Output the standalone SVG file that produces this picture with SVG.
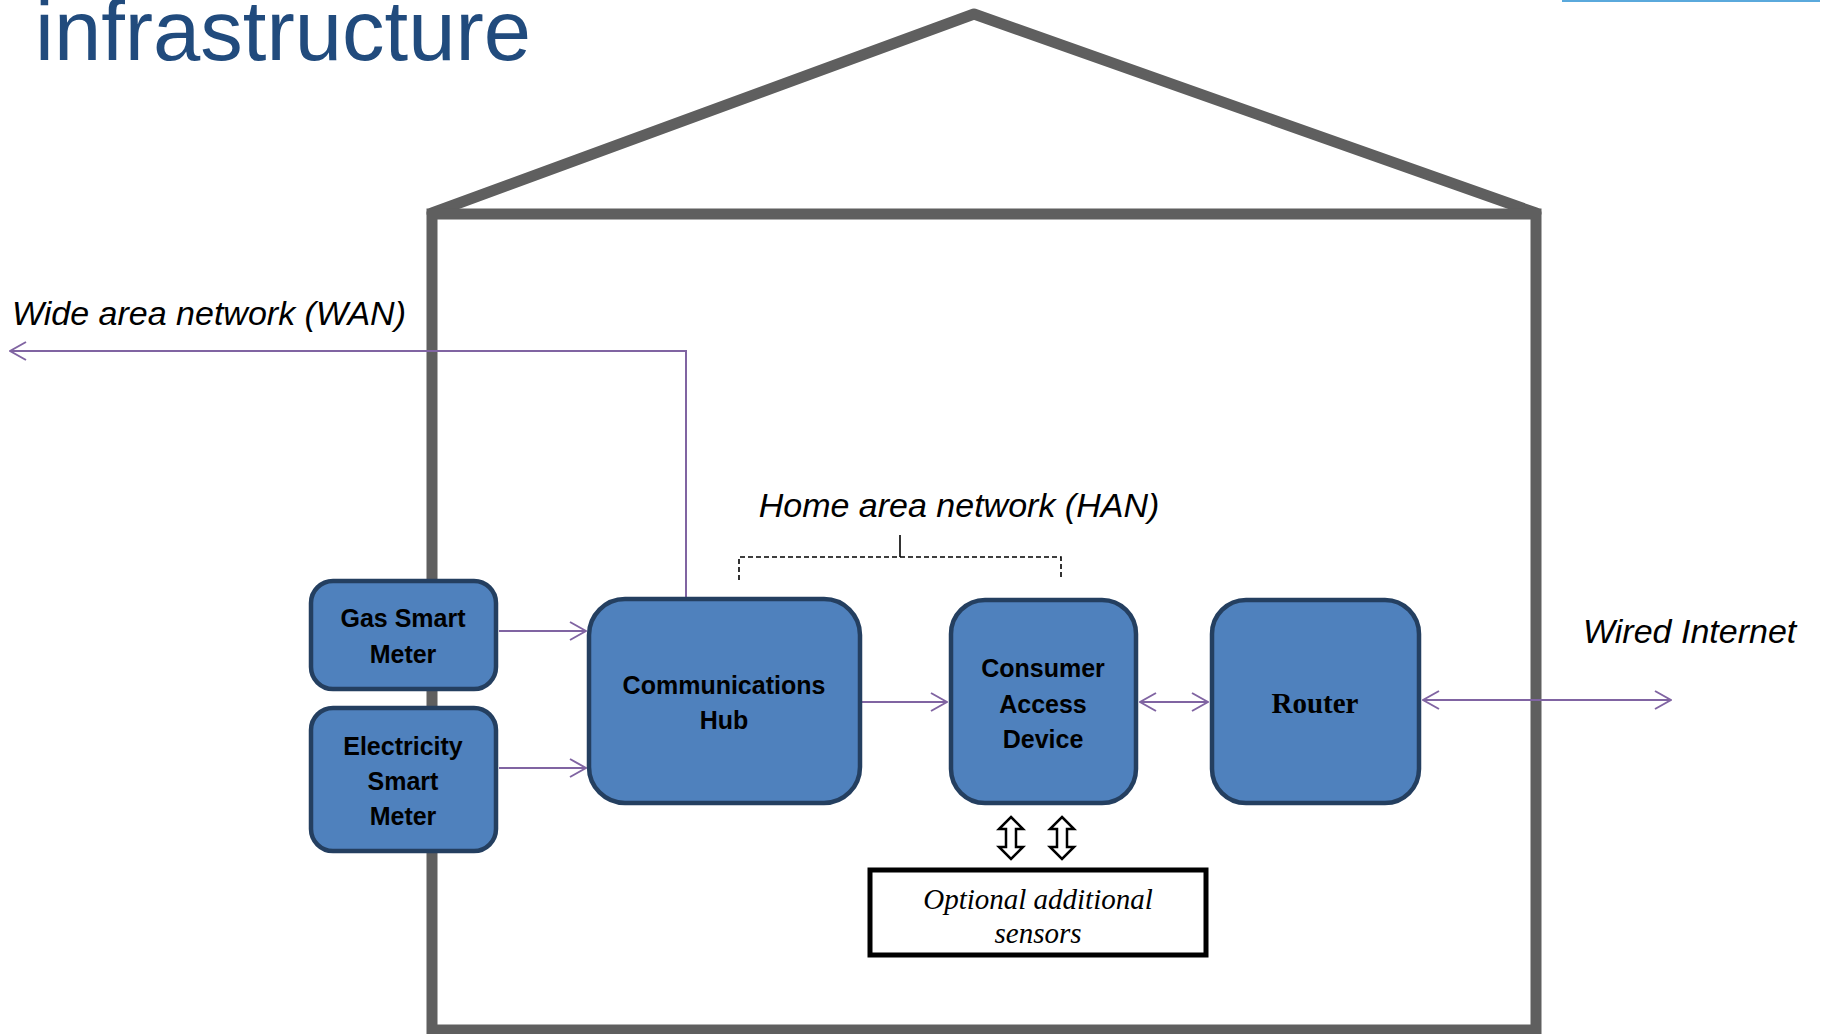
<svg xmlns="http://www.w3.org/2000/svg" width="1822" height="1034" viewBox="0 0 1822 1034">
  <defs>
    <style>
      .house { fill: none; stroke: #5f5f5f; stroke-width: 11; stroke-linejoin: round; stroke-linecap: round; }
      .node { fill: #4f81bd; stroke: #243f60; stroke-width: 4.5; }
      .label { font-family: "Liberation Sans", Arial, sans-serif; font-weight: bold; font-size: 25px; fill: #000; text-anchor: middle; }
      .net { font-family: "Liberation Sans", Arial, sans-serif; font-style: italic; font-size: 34px; fill: #000; }
      .serif { font-family: "Liberation Serif", "Times New Roman", serif; fill: #000; text-anchor: middle; }
      .link { fill: none; stroke: #8064a2; stroke-width: 2; }
      .bracket { fill: none; stroke: #000; stroke-width: 1.6; stroke-dasharray: 5 3; }
      .block { fill: #fff; stroke: #000; stroke-width: 2.5; stroke-linejoin: miter; }
    </style>
    <marker id="chev" viewBox="0 0 18 20" refX="17" refY="10" markerWidth="18" markerHeight="20" markerUnits="userSpaceOnUse" orient="auto-start-reverse">
      <path d="M1,1 L17,10 L1,19" fill="none" stroke="#8064a2" stroke-width="2"/>
    </marker>
  </defs>

  <rect width="1822" height="1034" fill="#fff"/>

  <!-- slide title and header rule -->
  <text x="35" y="60" font-family="Liberation Sans, Arial, sans-serif" font-size="85" fill="#214b7d">infrastructure</text>
  <rect x="1562" y="0" width="258" height="2" fill="#5aa9dc"/>

  <!-- house outline -->
  <g id="house">
    <path class="house" d="M432,213 L974,14 L1536,213"/>
    <rect class="house" x="432" y="214" width="1104" height="816" style="stroke-linejoin:miter"/>
  </g>

  <!-- connectors -->
  <g id="connectors">
    <path class="link" d="M686,597 V351 H10" marker-end="url(#chev)"/>
    <path class="link" d="M499,631 H586" marker-end="url(#chev)"/>
    <path class="link" d="M499,768 H586" marker-end="url(#chev)"/>
    <path class="link" d="M862,702 H947" marker-end="url(#chev)"/>
    <path class="link" d="M1140,702 H1208" marker-start="url(#chev)" marker-end="url(#chev)"/>
    <path class="link" d="M1423,700 H1671" marker-start="url(#chev)" marker-end="url(#chev)"/>
    <!-- HAN bracket -->
    <path class="bracket" d="M739,580 V557 H1061 V580"/>
    <path class="bracket" d="M900,557 V535" style="stroke-dasharray:none"/>
    <!-- sensor links -->
    <path class="block" d="M1011,817 L1023,829 L1016,829 L1016,847 L1023,847 L1011,859 L999,847 L1006,847 L1006,829 L999,829 Z"/>
    <path class="block" d="M1062,817 L1074,829 L1067,829 L1067,847 L1074,847 L1062,859 L1050,847 L1057,847 L1057,829 L1050,829 Z"/>
  </g>

  <!-- network labels -->
  <text class="net" x="12" y="325">Wide area network (WAN)</text>
  <text class="net" x="959" y="517" text-anchor="middle">Home area network (HAN)</text>
  <text class="net" x="1583" y="643">Wired Internet</text>

  <g id="gas-meter">
    <rect class="node" x="311" y="581" width="185" height="108" rx="22"/>
    <text class="label" x="403" y="627">Gas Smart</text>
    <text class="label" x="403" y="663">Meter</text>
  </g>

  <g id="electricity-meter">
    <rect class="node" x="311" y="708" width="185" height="143" rx="22"/>
    <text class="label" x="403" y="755">Electricity</text>
    <text class="label" x="403" y="790">Smart</text>
    <text class="label" x="403" y="825">Meter</text>
  </g>

  <g id="comms-hub">
    <rect class="node" x="589" y="599" width="271" height="204" rx="36"/>
    <text class="label" x="724" y="694">Communications</text>
    <text class="label" x="724" y="729">Hub</text>
  </g>

  <g id="consumer-access-device">
    <rect class="node" x="951" y="600" width="185" height="203" rx="34"/>
    <text class="label" x="1043" y="677">Consumer</text>
    <text class="label" x="1043" y="713">Access</text>
    <text class="label" x="1043" y="748">Device</text>
  </g>

  <g id="router">
    <rect class="node" x="1212" y="600" width="207" height="203" rx="34"/>
    <text class="serif" x="1315" y="713" font-size="29" font-weight="bold">Router</text>
  </g>

  <g id="sensors">
    <rect x="870" y="870" width="336" height="85" fill="#fff" stroke="#000" stroke-width="5"/>
    <text class="serif" x="1038" y="909" font-size="29" font-style="italic">Optional additional</text>
    <text class="serif" x="1038" y="943" font-size="29" font-style="italic">sensors</text>
  </g>
</svg>
